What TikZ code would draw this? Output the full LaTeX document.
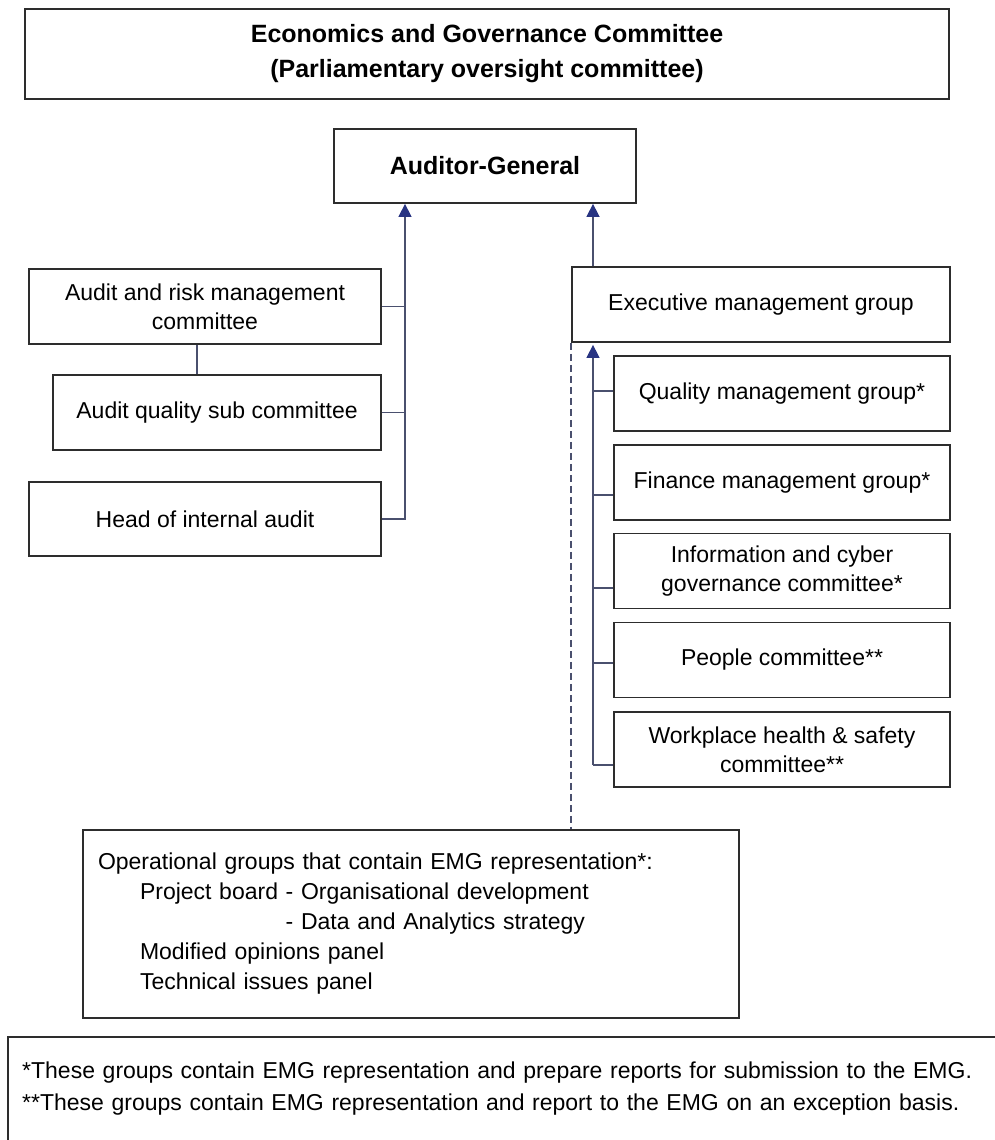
\documentclass[tikz,border=0pt]{standalone}
\usepackage{fontspec}
\setmainfont{Liberation Sans}
\usetikzlibrary{arrows.meta}

\definecolor{boxline}{RGB}{45,45,45}
\definecolor{linkline}{RGB}{74,80,110}
\definecolor{tipfill}{RGB}{40,52,130}

\tikzset{
  orgbox/.style={draw=boxline, line width=1.8pt, align=center, inner sep=0pt,
    font=\fontsize{23}{29}\selectfont},
  headbox/.style={orgbox, font=\bfseries\fontsize{25}{35}\selectfont},
  link/.style={draw=linkline, line width=1.5pt},
  uplink/.style={link, -{Triangle[length=13pt, width=13pt, color=tipfill]}},
}

\begin{document}
\begin{tikzpicture}[x=1pt, y=-1pt]
  \useasboundingbox (0,0) rectangle (995,1140);

  % oversight and Auditor-General
  \node[headbox, minimum width=924pt, minimum height=90pt] (egc) at (487,54)
    {Economics and Governance Committee\\(Parliamentary oversight committee)};
  \node[headbox, minimum width=302pt, minimum height=74pt] (ag) at (485,166) {Auditor-General};

  % audit side
  \node[orgbox, minimum width=352pt, minimum height=75pt] (arm) at (205,306.5)
    {Audit and risk management\\committee};
  \node[orgbox, minimum width=328pt, minimum height=75pt] (aqs) at (217,412.5)
    {Audit quality sub committee};
  \node[orgbox, minimum width=352pt, minimum height=74pt] (hia) at (205,519)
    {Head of internal audit};
  \coordinate (aspine) at (405,519);
  \draw[uplink] (hia.east) -- (aspine) -- (aspine |- ag.south);
  \draw[link] (arm.east) -- (arm.east -| aspine);
  \draw[link] (aqs.east) -- (aqs.east -| aspine);
  \draw[link] ([xshift=-8pt]arm.south) -- ([xshift=-8pt]arm.south |- aqs.north);

  % management side
  \node[orgbox, minimum width=378pt, minimum height=75pt] (emg) at (761,304.5)
    {Executive management group};
  \coordinate (espine) at (593,765);
  \draw[uplink] (espine |- emg.north) -- (espine |- ag.south);
  \foreach \name/\ypos/\stub/\txt in {
      qmg/393.5/2.5/{Quality management group*},
      fmg/482.5/-12.5/{Finance management group*},
      icg/571/-17/{Information and cyber\\governance committee*},
      ppl/660/-3/{People committee**},
      whs/749.5/-15.5/{Workplace health \& safety\\committee**}} {
    \node[orgbox, minimum width=336pt, minimum height=75pt] (\name) at (782,\ypos) {\txt};
    \draw[link] ([yshift=\stub pt]\name.west) -- ([yshift=\stub pt]\name.west -| espine);
  }
  \draw[uplink, shorten >=2pt] (espine) -- (espine |- emg.south);

  % operational groups
  \node[orgbox, minimum width=656pt, minimum height=188pt, text width=626pt, align=left,
    font=\fontsize{23}{30}\selectfont] (ops) at (411,924)
    {Operational groups that contain EMG representation*:\\
     \hspace*{42pt}Project board - Organisational development\\
     \hspace*{42pt}\phantom{Project board }- Data and Analytics strategy\\
     \hspace*{42pt}Modified opinions panel\\
     \hspace*{42pt}Technical issues panel};
  \draw[link, dash pattern=on 7pt off 4pt] (emg.south west) -- (emg.south west |- ops.north);

  % footnotes
  \node[font=\fontsize{23}{32}\selectfont, text width=960pt, inner xsep=14pt, inner ysep=0pt,
    minimum height=103pt, anchor=north west, align=left] (fn) at (8,1037)
    {*These groups contain EMG representation and prepare reports for submission to the EMG.\\{}%
     **These groups contain EMG representation and report to the EMG on an exception basis.};
  \draw[draw=boxline, line width=1.8pt] (fn.north east) -- (fn.north west) -- (fn.south west);
\end{tikzpicture}
\end{document}
